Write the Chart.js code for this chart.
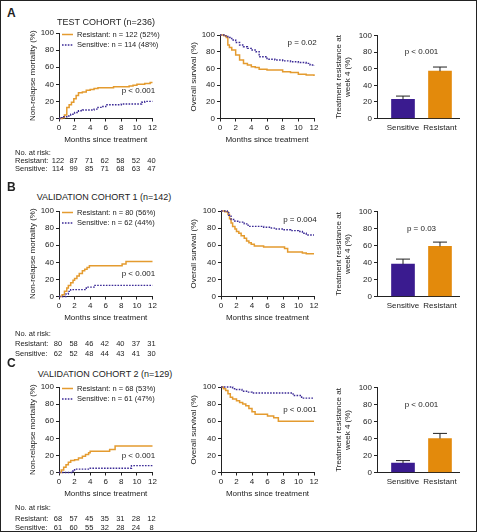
<!DOCTYPE html>
<html>
<head>
<meta charset="utf-8">
<script src="https://cdn.jsdelivr.net/npm/chart.js@4.4.1/dist/chart.umd.min.js"></script>
<style>
body { margin: 0; background: #fff; }
#fig { position: relative; width: 477px; height: 532px; overflow: hidden; color: #222;
  font-family: 'Liberation Sans', Arial, sans-serif; }
#frame { position: absolute; left: 0; top: 0; width: 477px; height: 532px; box-sizing: border-box; border: 1px solid #222; }
canvas { position: absolute; }
.letter { position: absolute; font: bold 12px 'Liberation Sans', Arial, sans-serif; transform: translateY(-50%); }
.title { position: absolute; font-size: 9px; white-space: nowrap; transform: translate(-50%, -50%); }
</style>
</head>
<body>
<div id="fig">
  <canvas id="a1"></canvas><canvas id="a2"></canvas><canvas id="a3"></canvas>
  <canvas id="b1"></canvas><canvas id="b2"></canvas><canvas id="b3"></canvas>
  <canvas id="c1"></canvas><canvas id="c2"></canvas><canvas id="c3"></canvas>
  <div class="letter" style="left:7px;top:13px">A</div>
  <div class="letter" style="left:7px;top:187px">B</div>
  <div class="letter" style="left:7px;top:363px">C</div>
  <div class="title" style="left:106px;top:22px">TEST COHORT (n=236)</div>
  <div class="title" style="left:104px;top:197px">VALIDATION COHORT 1 (n=142)</div>
  <div class="title" style="left:105px;top:374px">VALIDATION COHORT 2 (n=129)</div>
  <div id="frame"></div>
</div>
<script>
// months where patients at risk are counted
const riskMonths = [0, 2, 4, 6, 8, 10, 12];
const groups = ['Sensitive', 'Resistant'];

// test cohort
const testNrmResT = [0, 0.4, 0.7, 1.0, 1.3, 1.6, 1.9, 2.2, 2.5, 3.0, 3.5, 4.0, 4.5, 5.0, 7.0, 8.5, 9.0, 9.5, 10.0, 11.0, 11.7, 12];
const testNrmResY = [0, 1, 4, 13, 16, 19, 23, 27, 30, 31, 33, 34, 35, 36, 37, 37, 38, 39, 40, 41, 42, 42];
const testNrmSenT = [0, 0.3, 0.6, 1.0, 1.5, 2.0, 2.5, 3.0, 4.0, 4.5, 5.0, 5.5, 6.0, 8.0, 10.2, 10.6, 11.0, 12];
const testNrmSenY = [0, 1, 2, 3, 5, 7, 9, 10, 10, 11, 13, 14, 16, 17, 17, 19, 20, 20];
const testOsResT = [0, 0.5, 0.8, 1.0, 1.2, 1.5, 2.0, 2.5, 3.0, 3.5, 4.0, 4.5, 5.0, 6.0, 7.0, 8.0, 9.0, 10.0, 11.0, 12];
const testOsResY = [100, 99, 97, 88, 85, 82, 76, 70, 66, 64, 62, 61, 59, 58, 58, 56, 55, 53, 52, 51];
const testOsSenT = [0, 0.5, 1.0, 1.5, 2.0, 2.5, 3.0, 3.5, 4.0, 4.6, 5.0, 6.0, 7.0, 8.0, 9.0, 10.0, 11.0, 11.5, 12];
const testOsSenY = [100, 99, 97, 94, 91, 88, 86, 84, 82, 80, 74, 71, 70, 69, 68, 67, 66, 64, 63];
const testRiskRes = [122, 87, 71, 62, 58, 52, 40];
const testRiskSen = [114, 99, 85, 71, 68, 63, 47];
const testLegend = ['Resistant: n = 122 (52%)', 'Sensitive: n = 114 (48%)'];
const testWeek4 = [23, 57];
const testWeek4Err = [27, 62];
const testP = ['p < 0.001', 'p = 0.02', 'p < 0.001'];

// validation cohort 1
const val1NrmResT = [0, 0.4, 0.7, 1.0, 1.2, 1.5, 1.8, 2.0, 2.3, 2.6, 3.0, 3.3, 3.6, 3.9, 7.8, 8.1, 8.6, 12];
const val1NrmResY = [0, 2, 6, 10, 13, 16, 19, 21, 24, 27, 30, 32, 34, 36, 36, 38, 41, 41];
const val1NrmSenT = [0, 0.9, 1.2, 1.5, 3.5, 4.5, 12];
const val1NrmSenY = [0, 3, 6, 8, 11, 13, 13];
const val1OsResT = [0, 0.5, 0.9, 1.1, 1.3, 1.5, 1.8, 2.0, 2.3, 2.6, 3.0, 3.3, 3.6, 3.9, 4.3, 5.5, 7.8, 8.2, 8.6, 10.5, 11, 12];
const val1OsResY = [100, 99, 96, 91, 86, 82, 79, 76, 74, 71, 68, 65, 63, 61, 59, 58, 58, 56, 52, 51, 50, 50];
const val1OsSenT = [0, 0.8, 1.0, 1.3, 1.8, 2.3, 3.0, 3.5, 4.5, 5.5, 6.5, 7.0, 8.0, 9.0, 10.0, 10.5, 11, 12];
const val1OsSenY = [100, 98, 95, 90, 88, 87, 85, 82, 82, 81, 80, 79, 78, 77, 76, 74, 72, 72];
const val1RiskRes = [80, 58, 46, 42, 40, 37, 31];
const val1RiskSen = [62, 52, 48, 44, 43, 41, 30];
const val1Legend = ['Resistant: n = 80 (56%)', 'Sensitive: n = 62 (44%)'];
const val1Week4 = [38, 59];
const val1Week4Err = [44, 64];
const val1P = ['p < 0.001', 'p = 0.004', 'p = 0.03'];

// validation cohort 2
const val2NrmResT = [0, 0.3, 0.6, 0.9, 1.2, 1.5, 2.0, 2.5, 3.0, 3.4, 3.8, 4.0, 6.3, 6.5, 7.2, 12];
const val2NrmResY = [0, 3, 6, 9, 12, 14, 15, 17, 19, 21, 23, 25, 25, 27, 31, 31];
const val2NrmSenT = [0, 1.8, 2.0, 3.5, 4.0, 9.3, 12];
const val2NrmSenY = [0, 2, 4, 4, 5, 8, 8];
const val2OsResT = [0, 0.3, 0.6, 0.9, 1.2, 1.5, 2.0, 2.4, 2.8, 3.2, 3.6, 4.0, 4.4, 5.5, 6.0, 6.8, 7.4, 12];
const val2OsResY = [100, 98, 96, 92, 88, 86, 84, 82, 80, 78, 75, 71, 68, 68, 66, 64, 60, 60];
const val2OsSenT = [0, 1.5, 2.0, 2.7, 3.3, 4.0, 9.3, 10.4, 12];
const val2OsSenY = [100, 98, 97, 95, 94, 93, 90, 87, 87];
const val2RiskRes = [68, 57, 45, 35, 31, 28, 12];
const val2RiskSen = [61, 60, 55, 32, 28, 24, 8];
const val2Legend = ['Resistant: n = 68 (53%)', 'Sensitive: n = 61 (47%)'];
const val2Week4 = [11, 40];
const val2Week4Err = [14, 46];
const val2P = ['p < 0.001', 'p < 0.001', 'p < 0.001'];

const FONT = "'Liberation Sans', Arial, sans-serif";
const INK = '#222';
const ORANGE = '#e49b2f', PURPLE = '#3b2a96';
const BAR_ORANGE = '#e38a0c', BAR_PURPLE = '#3a1b8f';
const FS = 8;
const LH = FS * 1.2;

Chart.defaults.font.family = FONT;
Chart.defaults.font.size = FS;
Chart.defaults.color = INK;

const pts = (t, y) => t.map((v, i) => ({x: v, y: y[i]}));

const place = (id, box) => {
  const cv = document.getElementById(id);
  cv.width = box.w; cv.height = box.h;
  cv.style.left = box.x + 'px'; cv.style.top = box.y + 'px';
  cv.style.width = box.w + 'px'; cv.style.height = box.h + 'px';
  return cv;
}

const axisY = (box, area, title, titleX) => ({
  min: 0, max: 100,
  afterFit: s => { s.width = area.l - box.x; },
  ticks: { stepSize: 20, padding: 2 },
  grid: { display: true, drawOnChartArea: false, drawTicks: true, tickLength: 3, color: INK, tickColor: INK },
  border: { display: true, color: INK, width: 1 },
  title: { display: true, text: title, padding: { top: titleX - box.x - LH / 2, bottom: 0 } }
});

// legend, p-value and numbers at risk drawn over the survival panels
const kmExtras = {
  id: 'kmExtras',
  afterDraw(chart, args, o) {
    const {ctx, chartArea: a, scales: {x, y}} = chart;
    ctx.save();
    ctx.fillStyle = INK;
    ctx.textBaseline = 'middle';
    if (o.legend) {
      ctx.font = '7.5px ' + FONT;
      const ds = chart.data.datasets;
      [ds[1], ds[0]].forEach((d, i) => {
        const ly = a.top + 1.5 + i * 10.5;
        ctx.strokeStyle = d.borderColor;
        ctx.lineWidth = d.borderWidth;
        ctx.setLineDash(d.borderDash || []);
        ctx.beginPath(); ctx.moveTo(a.left + 3, ly); ctx.lineTo(a.left + 14, ly); ctx.stroke();
        ctx.setLineDash([]);
        ctx.textAlign = 'left';
        ctx.fillText(o.legend[i], a.left + 18, ly);
      });
    }
    ctx.font = FS + 'px ' + FONT;
    if (o.p) {
      ctx.textAlign = 'right';
      ctx.fillText(o.p.text, x.getPixelForValue(o.p.x), y.getPixelForValue(o.p.y));
    }
    if (o.risk) {
      ctx.font = '7.5px ' + FONT;
      const rows = [['No. at risk:', null], ['Resistant:', o.risk.res], ['Sensitive:', o.risk.sen]];
      rows.forEach((r, i) => {
        const ry = a.bottom + o.risk.rows[i];
        ctx.textAlign = 'left';
        ctx.fillText(r[0], o.risk.labelX, ry);
        if (r[1]) {
          ctx.textAlign = 'center';
          r[1].forEach((n, j) => ctx.fillText(String(n), x.getPixelForValue(riskMonths[j]) - 1, ry));
        }
      });
    }
    ctx.restore();
  }
};

const kmChart = (id, box, area, cfg) => {
  const xh = 28;
  const cv = place(id, box);
  return new Chart(cv, {
    type: 'line',
    data: { datasets: [
      { label: 'Sensitive', data: pts(cfg.senT, cfg.senY), borderColor: PURPLE, borderWidth: 1.4,
        borderDash: [1.6, 1.3], stepped: 'before', pointRadius: 0, clip: 4 },
      { label: 'Resistant', data: pts(cfg.resT, cfg.resY), borderColor: ORANGE, borderWidth: 1.5,
        stepped: 'before', pointRadius: 0, clip: 4 }
    ]},
    options: {
      responsive: false, animation: false, events: [],
      layout: { padding: { left: 0, top: area.t - box.y, right: box.x + box.w - area.r, bottom: box.y + box.h - area.b - xh } },
      plugins: { legend: { display: false }, tooltip: { enabled: false }, kmExtras: cfg.extras },
      scales: {
        x: {
          type: 'linear', min: 0, max: 12,
          afterFit: s => { s.height = xh; },
          ticks: { stepSize: 2, padding: 1 },
          grid: { display: true, drawOnChartArea: false, drawTicks: true, tickLength: 3, color: INK, tickColor: INK },
          border: { display: true, color: INK, width: 1 },
          title: { display: true, text: 'Months since treatment', padding: { top: 0, bottom: xh - LH / 2 - 21 } }
        },
        y: axisY(box, area, cfg.yTitle, cfg.yTitleX)
      }
    },
    plugins: [kmExtras]
  });
}

// error bars (upper only) and p-value for the week-4 panels
const barExtras = {
  id: 'barExtras',
  afterDatasetsDraw(chart, args, o) {
    const {ctx, scales: {x, y}} = chart;
    const meta = chart.getDatasetMeta(0);
    ctx.save();
    ctx.strokeStyle = INK; ctx.lineWidth = 1;
    meta.data.forEach((bar, i) => {
      const ey = y.getPixelForValue(o.err[i]);
      ctx.beginPath();
      ctx.moveTo(bar.x, bar.y); ctx.lineTo(bar.x, ey);
      ctx.moveTo(bar.x - 7, ey); ctx.lineTo(bar.x + 7, ey);
      ctx.stroke();
    });
    ctx.font = FS + 'px ' + FONT; ctx.fillStyle = INK;
    ctx.textAlign = 'center'; ctx.textBaseline = 'middle';
    ctx.fillText(o.p, x.getPixelForValue(0.5), y.getPixelForValue(80));
    ctx.restore();
  }
};

const barChart = (id, box, area, vals, err, p) => {
  const xh = 18;
  const cv = place(id, box);
  return new Chart(cv, {
    type: 'bar',
    data: { datasets: [{ data: vals.map((v, i) => ({x: i, y: v})), backgroundColor: [BAR_PURPLE, BAR_ORANGE],
      borderWidth: 0, barThickness: 23 }] },
    options: {
      responsive: false, animation: false, events: [],
      layout: { padding: { left: 0, top: area.t - box.y, right: box.x + box.w - area.r, bottom: box.y + box.h - area.b - xh } },
      plugins: { legend: { display: false }, tooltip: { enabled: false }, barExtras: { err, p } },
      scales: {
        x: {
          type: 'linear', min: -0.703, max: 1.514, offset: false,
          afterFit: s => { s.height = xh; },
          afterBuildTicks: s => { s.ticks = [{value: 0}, {value: 1}]; },
          ticks: { callback: v => groups[v], padding: 4.5 },
          grid: { display: false, offset: false, drawTicks: false, tickLength: 0 },
          border: { display: true, color: INK, width: 1 }
        },
        y: axisY(box, area, ['Treatment resistance at', 'week 4 (%)'], 338.3)
      }
    },
    plugins: [barExtras]
  });
}

const riskRows = { a: [34, 42, 50.5], b: [37, 47.5, 57.5], c: [35, 46.5, 55.5] };

const cohorts = [
  { key: 'a', top: 33, nrm: [testNrmResT, testNrmResY, testNrmSenT, testNrmSenY], os: [testOsResT, testOsResY, testOsSenT, testOsSenY],
    risk: [testRiskRes, testRiskSen], legend: testLegend, bar: [testWeek4, testWeek4Err], p: testP, pNrm: 32, pOs: 90.5, midL: 220 },
  { key: 'b', top: 211, nrm: [val1NrmResT, val1NrmResY, val1NrmSenT, val1NrmSenY], os: [val1OsResT, val1OsResY, val1OsSenT, val1OsSenY],
    risk: [val1RiskRes, val1RiskSen], legend: val1Legend, bar: [val1Week4, val1Week4Err], p: val1P, pNrm: 27, pOs: 89.5, midL: 221 },
  { key: 'c', top: 387, nrm: [val2NrmResT, val2NrmResY, val2NrmSenT, val2NrmSenY], os: [val2OsResT, val2OsResY, val2OsSenT, val2OsSenY],
    risk: [val2RiskRes, val2RiskSen], legend: val2Legend, bar: [val2Week4, val2Week4Err], p: val2P, pNrm: 20, pOs: 73, midL: 221 }
];

cohorts.forEach(c => {
  const t = c.top, b = t + 85.5;
  kmChart(c.key + '1', { x: 0, y: t - 8, w: 172, h: 162 }, { l: 59, t, r: 152.5, b }, {
    resT: c.nrm[0], resY: c.nrm[1], senT: c.nrm[2], senY: c.nrm[3],
    yTitle: 'Non-relapse mortality (%)', yTitleX: 33,
    extras: { legend: c.legend, p: { text: c.p[0], x: 12.35, y: c.pNrm },
      risk: { res: c.risk[0], sen: c.risk[1], rows: riskRows[c.key], labelX: 15 } }
  });
  const midT = c.key === 'a' ? t + 2 : t;
  kmChart(c.key + '2', { x: 165, y: midT - 8, w: 160, h: 125 }, { l: c.midL, t: midT, r: 314, b }, {
    resT: c.os[0], resY: c.os[1], senT: c.os[2], senY: c.os[3],
    yTitle: 'Overall survival (%)', yTitleX: 193.5,
    extras: { p: { text: c.p[1], x: 12.35, y: c.pOs } }
  });
  barChart(c.key + '3', { x: 325, y: midT - 8, w: 149, h: 120 }, { l: 377, t: midT + 0.5, r: 459, b }, c.bar[0], c.bar[1], c.p[2]);
});
</script>
</body>
</html>
